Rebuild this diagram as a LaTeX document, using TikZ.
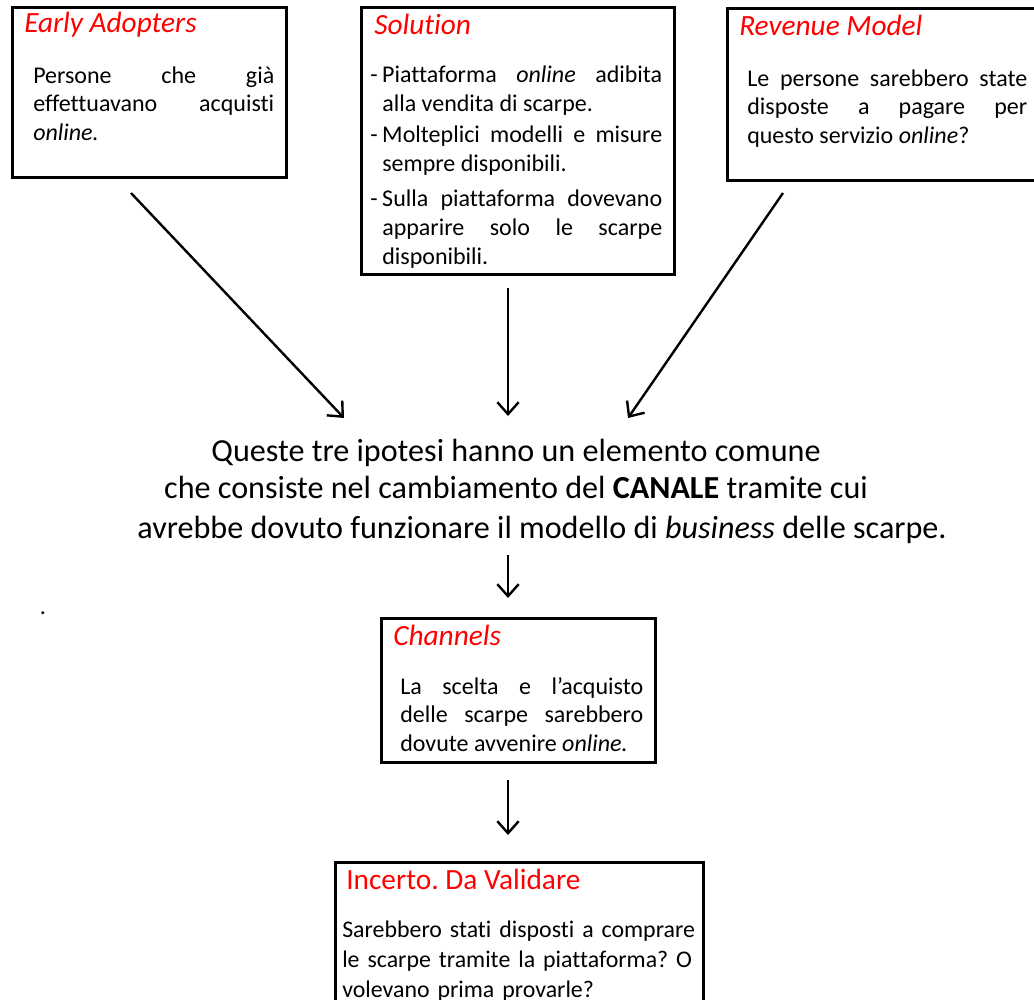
\documentclass[tikz,border=0pt]{standalone}
\usepackage{fontspec}
\setmainfont[Ligatures={NoCommon}]{Carlito}
\usetikzlibrary{arrows.meta}
\definecolor{titlered}{RGB}{255,0,0}
% dash bullet with hanging indent
\newcommand\dashitem{\strut\hangindent=9pt\hangafter=1\makebox[9pt][l]{-}}
% justified spacing that only stretches, never shrinks
\newcommand\noshrink{\spaceskip=\fontdimen2\font plus \fontdimen3\font\relax}
\begin{document}
\hyphenpenalty=10000
\exhyphenpenalty=10000
\frenchspacing
\begin{tikzpicture}[x=0.75pt,y=-0.75pt,
  box/.style={draw, line width=2.2pt, anchor=north west, inner sep=0pt},
  ttl/.style={anchor=base west, inner sep=0pt, text=titlered, font=\fontsize{22}{26}\selectfont\itshape},
  body/.style={anchor=north west, inner sep=0pt, align=justify, font=\fontsize{18}{21.4}\selectfont\noshrink},
  big/.style={anchor=base, inner sep=0pt, font=\fontsize{24.1}{30}\selectfont},
  arr/.style={line width=1.8pt, -{Straight Barb[length=9pt, width=16pt, line width=1.8pt]}},
]
\useasboundingbox (0,0) rectangle (1034,999);

% three hypotheses
\node[box, minimum width=205.5pt, minimum height=127.5pt] (ea) at (11,6) {};
\node[ttl] (eat) at (24,33) {Early Adopters};
\node[body, text width=180.75pt] (eab) at (33,63) {\strut Persone che già effettuavano acquisti \textit{online.}};

\node[box, minimum width=234.75pt, minimum height=200.25pt] (so) at (360,6) {};
\node[ttl] (sot) at (374,35) {Solution};
\node[body, text width=219pt, font=\fontsize{18}{21.75}\selectfont\noshrink] (sob) at (370,62) {%
\dashitem Piattaforma \textit{online} adibita alla vendita di scarpe.\par\vspace{1.5pt}
\dashitem Molteplici modelli e misure sempre disponibili.\par\vspace{4.5pt}
\dashitem Sulla piattaforma dovevano apparire solo le scarpe disponibili.\par};

\node[box, minimum width=232.5pt, minimum height=129pt] (rm) at (726,7) {};
\node[ttl] (rmt) at (739,36) {Revenue Model};
\node[body, text width=210pt] (rmb) at (747,66) {\strut Le persone sarebbero state disposte a pagare per questo servizio \textit{online}?};

% common element
\node[big] (l1) at (516,461) {Queste tre ipotesi hanno un elemento comune};
\node[big] (l2) at (516,498) {che consiste nel cambiamento del \textbf{CANALE} tramite cui};
\node[big] (l3) at (542,538) {avrebbe dovuto funzionare il modello di \textit{business} delle scarpe.};

\node[anchor=base, inner sep=0pt, font=\fontsize{18}{21.4}\selectfont] (dot) at (43,614) {.};

% channels
\node[box, minimum width=205.5pt, minimum height=108pt] (ch) at (380,617) {};
\node[ttl] (cht) at (393,645) {Channels};
\node[body, text width=182.25pt] (chb) at (400,674) {\strut La scelta e l’acquisto delle scarpe sarebbero dovute avvenire \textit{online.}};

% open question
\node[box, minimum width=276pt, minimum height=120pt] (iv) at (334,861) {};
\node[ttl, font=\fontsize{22}{26}\selectfont] (ivt) at (346,889) {Incerto. Da Validare};
\node[body, text width=272pt, align=left, font=\fontsize{17.9}{22.5}\selectfont] (ivb) at (342,916) {\strut Sarebbero stati disposti a comprare le scarpe tramite la piattaforma? O volevano prima provarle?};

% connectors
\coordinate (a1s) at (131,193); \coordinate (a1e) at (344,418);
\coordinate (a2s) at (508,288); \coordinate (a2e) at (508,416);
\coordinate (a3s) at (783,193); \coordinate (a3e) at (628,418);
\coordinate (a4s) at (508,555); \coordinate (a4e) at (508,598);
\coordinate (a5s) at (508,780); \coordinate (a5e) at (508,835);
\draw[arr] (a1s) -- (a1e);
\draw[arr] (a2s) -- (a2e);
\draw[arr] (a3s) -- (a3e);
\draw[arr] (a4s) -- (a4e);
\draw[arr] (a5s) -- (a5e);
\end{tikzpicture}
\end{document}
